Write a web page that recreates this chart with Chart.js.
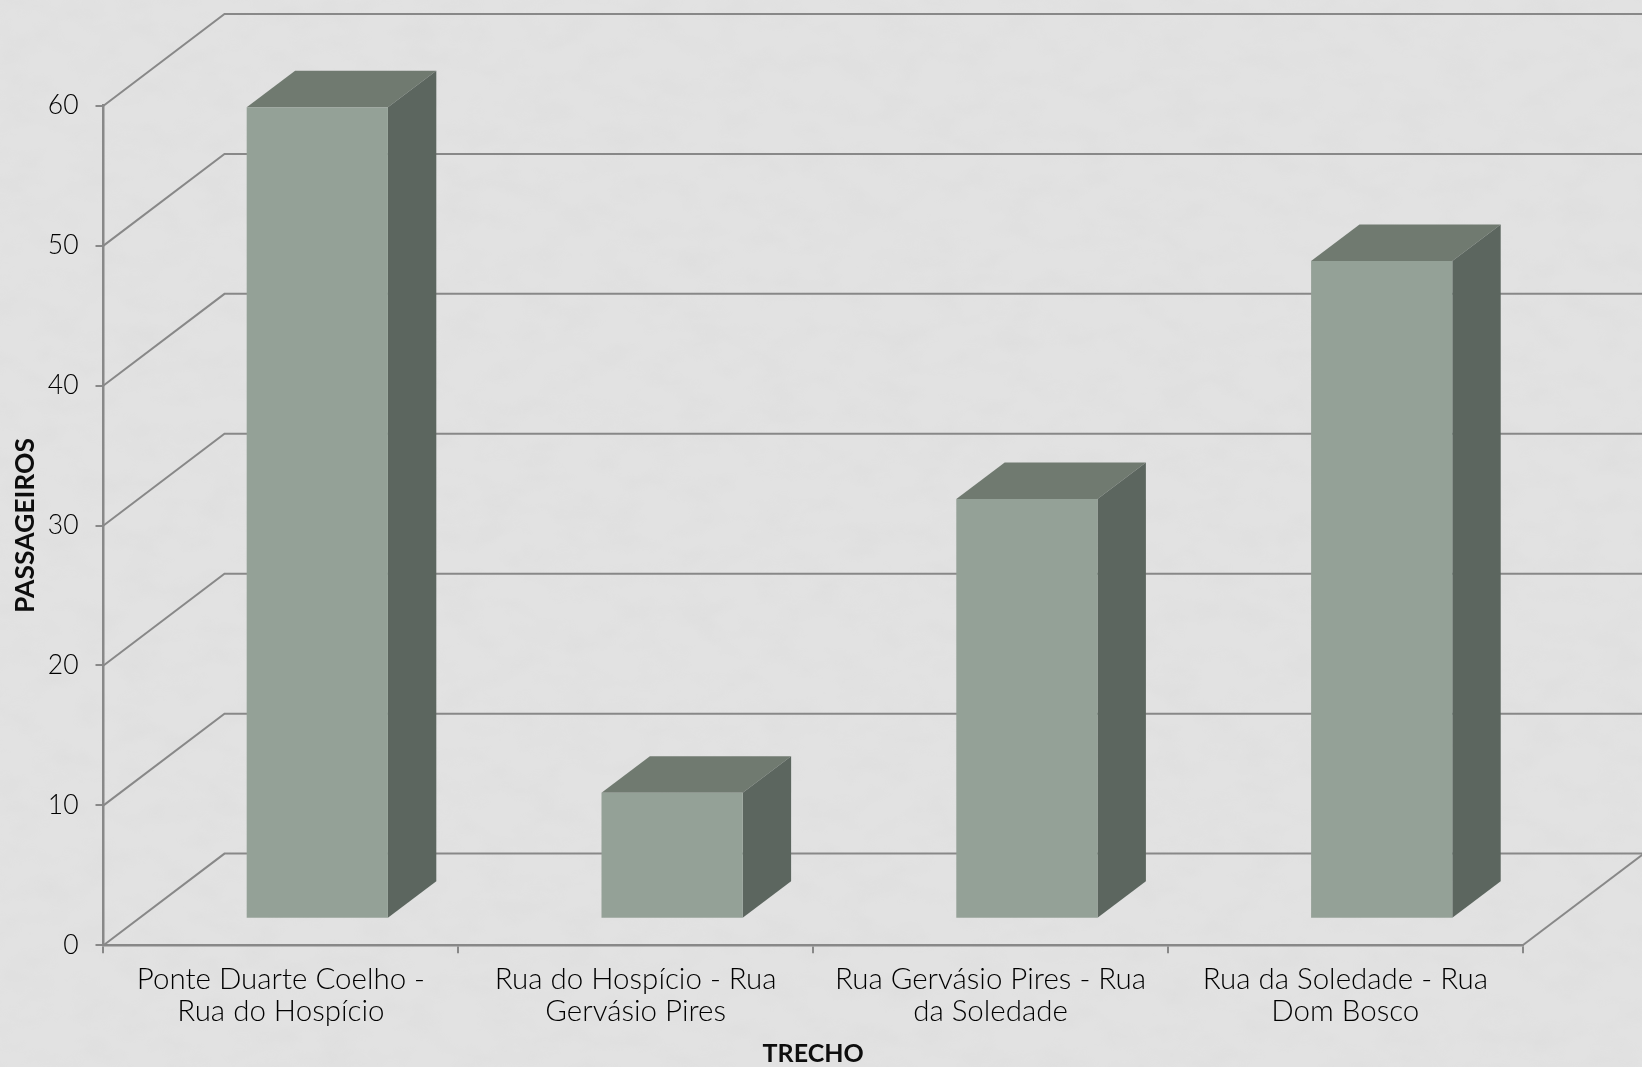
<!DOCTYPE html>
<html>
<head>
<meta charset="utf-8">
<title>Passageiros por trecho</title>
<script src="https://cdn.jsdelivr.net/npm/chart.js@4"></script>
<style>
html, body { margin: 0; padding: 0; overflow: hidden; background: #e0e0e0; }
canvas { display: block; position: relative; }
/* soft paper texture behind the chart */
#paper { position: absolute; left: 0; top: 0; }
</style>
</head>
<body>
<svg id="paper" width="1642" height="1067">
  <filter id="mottle" x="0" y="0" width="100%" height="100%">
    <feTurbulence type="fractalNoise" baseFrequency="0.025 0.04" numOctaves="3" seed="7"/>
    <feColorMatrix type="matrix" values="0 0 0 0 0.5  0 0 0 0 0.5  0 0 0 0 0.5  0.5 0 0 0 -0.2"/>
  </filter>
  <rect width="1642" height="1067" fill="#e2e2e2"/>
  <rect width="1642" height="1067" filter="url(#mottle)" opacity="0.3"/>
</svg>
<canvas id="chart_trecho" width="1642" height="1067"></canvas>
<script>
const categories = [
    ['Ponte Duarte Coelho -', 'Rua do Hospício'],
    ['Rua do Hospício - Rua', 'Gervásio Pires'],
    ['Rua Gervásio Pires - Rua', 'da Soledade'],
    ['Rua da Soledade - Rua', 'Dom Bosco']
];
const passageiros = [58, 9, 30, 47];
const yTicks = [0, 10, 20, 30, 40, 50, 60];

// depth of the fake 3D box, in pixels
const wallDx = 121, wallDy = 91.7;
const floorDx = 36.4, floorDy = 26.5;
const barDx = 48.4, barDy = 36.5;

const lineColor = '#888888';
const textFont = 'Lato';

const box3d = {
    id: 'box3d',
    beforeDraw(chart) {
        const ctx = chart.ctx;
        const y = chart.scales.y, x = chart.scales.x;
        ctx.save();
        ctx.strokeStyle = lineColor;
        ctx.lineWidth = 2;
        yTicks.forEach(function(v) {
            const py = y.getPixelForValue(v);
            ctx.beginPath();
            ctx.moveTo(x.left, py);
            ctx.lineTo(x.left + wallDx, py - wallDy);
            ctx.lineTo(chart.width, py - wallDy);
            ctx.stroke();
        });
        ctx.beginPath();
        ctx.moveTo(x.right, y.bottom);
        ctx.lineTo(x.right + wallDx, y.bottom - wallDy);
        ctx.stroke();
        ctx.restore();
    },
    beforeDatasetsDraw(chart) {
        chart.ctx.save();
        chart.ctx.translate(floorDx, -floorDy);
        chart.getDatasetMeta(0).data.forEach(function(bar) {
            const ctx = chart.ctx;
            const p = bar.getProps(['x', 'y', 'base', 'width'], true);
            const l = p.x - p.width / 2, r = p.x + p.width / 2;
            ctx.fillStyle = '#707a70';
            ctx.beginPath();
            ctx.moveTo(l, p.y);
            ctx.lineTo(l + barDx, p.y - barDy);
            ctx.lineTo(r + barDx, p.y - barDy);
            ctx.lineTo(r, p.y);
            ctx.closePath();
            ctx.fill();
            ctx.fillStyle = '#5c665f';
            ctx.beginPath();
            ctx.moveTo(r, p.y);
            ctx.lineTo(r + barDx, p.y - barDy);
            ctx.lineTo(r + barDx, p.base - barDy);
            ctx.lineTo(r, p.base);
            ctx.closePath();
            ctx.fill();
        });
    },
    afterDatasetsDraw(chart) {
        chart.ctx.restore();
    }
};

new Chart(document.getElementById('chart_trecho'), {
    type: 'bar',
    data: {
        labels: categories,
        datasets: [{
            label: 'Passageiros',
            data: passageiros,
            backgroundColor: '#94a197',
            categoryPercentage: 1,
            barPercentage: 0.398,
            clip: false
        }]
    },
    options: {
        responsive: false,
        animation: false,
        layout: { padding: { top: 105.7, right: 119.3, left: 0, bottom: 0 } },
        plugins: { legend: { display: false }, tooltip: { enabled: false } },
        scales: {
            x: {
                afterFit(scale) { scale.height = 121.7; },
                grid: { drawOnChartArea: false, color: lineColor, lineWidth: 2, tickLength: 8 },
                border: { color: lineColor, width: 2.5 },
                ticks: {
                    color: '#000000', padding: 10, maxRotation: 0, autoSkip: false,
                    font: { family: textFont, size: 29.5, weight: '300', lineHeight: 1.1 }
                },
                title: {
                    display: true, text: 'TRECHO', color: '#0d0d0d',
                    font: { family: textFont, size: 25, weight: 'bold' },
                    padding: { top: 0, bottom: -2 }
                }
            },
            y: {
                min: 0, max: 60,
                afterFit(scale) { scale.width = 103.5; },
                grid: { drawOnChartArea: false, color: lineColor, lineWidth: 2, tickLength: 8 },
                border: { color: lineColor, width: 2.5 },
                ticks: {
                    color: '#000000', padding: 17, stepSize: 10,
                    font: { family: textFont, size: 26.5, weight: '300' }
                },
                title: {
                    display: true, text: 'PASSAGEIROS', color: '#0d0d0d',
                    font: { family: textFont, size: 26.5, weight: 'bold' }, padding: 10
                }
            }
        }
    },
    plugins: [box3d]
});
</script>
</body>
</html>
